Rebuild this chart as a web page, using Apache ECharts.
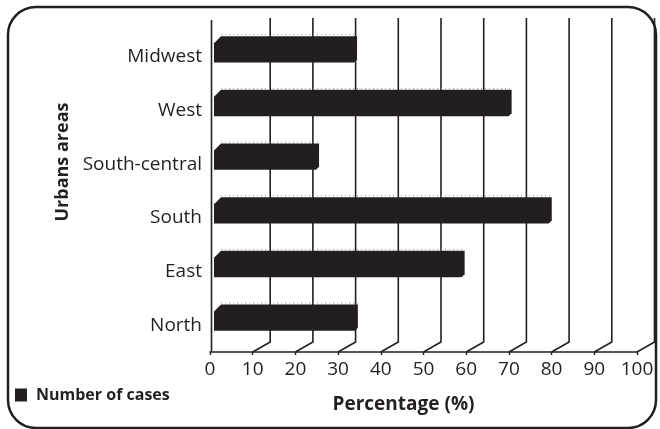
<!DOCTYPE html>
<html>
<head>
<meta charset="utf-8">
<script src="https://cdn.jsdelivr.net/npm/echarts@6/dist/echarts.min.js"></script>
<style>
  html, body { margin: 0; padding: 0; background: #ffffff; }
  #chart { width: 660px; height: 429px; }
</style>
</head>
<body>
<div id="chart"></div>
<script>
// Urban areas, listed bottom to top as they appear on the vertical axis
const areas = ['North', 'East', 'South', 'South-central', 'West', 'Midwest'];
// Share of cases in each area (%)
const cases = [33.7, 58.7, 79.1, 24.6, 69.7, 33.5];
// Percentage ticks along the horizontal axis
const ticks = [0, 10, 20, 30, 40, 50, 60, 70, 80, 90, 100];

const INK = '#231f20';
const FONT = '"Open Sans", "Noto Sans", sans-serif';

const chart = echarts.init(document.getElementById('chart'), null, { renderer: 'canvas' });

// Depth of the pseudo-3D floor: back wall sits up and to the right of the front axis
const DEPTH_X = 17.5;
const DEPTH_Y = 10;

function renderWall(params, api) {
  const cs = params.coordSys;
  const v = api.value(0);
  const front = api.coord([v, 0])[0];
  const bottom = cs.y + cs.height;
  const top = cs.y - 12;
  const style = { stroke: INK, lineWidth: 1.6, fill: null };
  if (v === 0) {
    return {
      type: 'polyline',
      shape: { points: [[front + 1.5, top + 2], [front + 1.5, bottom]] },
      style: style
    };
  }
  const back = front + DEPTH_X;
  return {
    type: 'polyline',
    shape: { points: [[back, top], [back, bottom - DEPTH_Y], [front, bottom]] },
    style: style
  };
}

function renderBar(params, api) {
  const v = api.value(0);
  const cat = api.value(1);
  const band = api.size([0, 1])[1];
  const start = api.coord([0, cat]);
  const end = api.coord([v, cat]);
  const h = band * 0.49;
  const yc = start[1] - band * 0.14;
  const x0 = start[0] + 4;
  const x1 = end[0] + 4;
  const t = yc - h / 2;
  const b = yc + h / 2;
  const c = 7;
  return {
    type: 'group',
    children: [
      {
        type: 'line',
        shape: { x1: x0 + c, y1: t - 1.5, x2: x1, y2: t - 1.5 },
        style: { stroke: '#9a9899', lineWidth: 1, lineDash: [1, 3] }
      },
      {
        type: 'polygon',
        shape: {
          points: [
            [x0, t + c], [x0 + c, t], [x1, t],
            [x1, b - 3], [x1 - 3, b], [x0, b]
          ]
        },
        style: { fill: INK }
      }
    ]
  };
}

chart.setOption({
  animation: false,
  backgroundColor: '#ffffff',
  textStyle: { fontFamily: FONT, color: INK },
  grid: { left: 210, top: 30, width: 427, height: 322, containLabel: false },
  legend: {
    left: 10,
    top: 382,
    itemWidth: 12,
    itemHeight: 13,
    data: [{ name: 'Number of cases', icon: 'rect' }],
    textStyle: { fontFamily: FONT, fontSize: 16, fontWeight: 'bold', color: INK, padding: [0, 0, 0, 4] }
  },
  xAxis: {
    type: 'value',
    min: 0,
    max: 100,
    interval: 10,
    name: 'Percentage (%)',
    nameLocation: 'middle',
    nameGap: 43,
    nameTextStyle: { fontFamily: FONT, fontSize: 19, fontWeight: 'bold', color: INK, padding: [0, 40, 0, 0] },
    axisLine: { show: true, lineStyle: { color: INK, width: 1.6 } },
    axisTick: { show: true, length: 3, lineStyle: { color: INK, width: 1.4 } },
    axisLabel: { fontFamily: FONT, fontSize: 19, color: INK, margin: 8 },
    splitLine: { show: false }
  },
  yAxis: {
    type: 'category',
    data: areas,
    axisLine: { show: false },
    axisTick: { show: false },
    axisLabel: { fontFamily: FONT, fontSize: 19, color: INK, margin: 8 },
    splitLine: { show: false }
  },
  graphic: [
    {
      type: 'rect',
      shape: { x: 8, y: 7, width: 648, height: 421, r: 28 },
      style: { fill: null, stroke: INK, lineWidth: 2.5 },
      z: 100
    },
    {
      type: 'text',
      x: 63,
      y: 162,
      rotation: Math.PI / 2,
      style: {
        text: 'Urbans areas',
        font: 'bold 18px ' + FONT,
        fill: INK,
        align: 'center',
        verticalAlign: 'middle'
      }
    }
  ],
  series: [
    {
      type: 'custom',
      silent: true,
      z: 1,
      renderItem: renderWall,
      encode: { x: 0, y: 1 },
      data: ticks.map(function (v) { return [v, 0]; })
    },
    {
      type: 'custom',
      name: 'Number of cases',
      z: 5,
      itemStyle: { color: INK },
      renderItem: renderBar,
      encode: { x: 0, y: 1 },
      data: cases.map(function (v, i) { return [v, i]; })
    }
  ]
});
</script>
</body>
</html>
